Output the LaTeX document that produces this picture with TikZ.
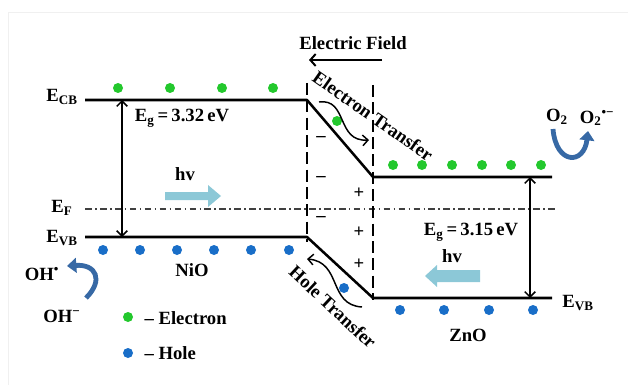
\documentclass[tikz,border=0pt]{standalone}
\usepackage{fontspec}
\setmainfont{Liberation Serif}
\usetikzlibrary{arrows.meta}
\definecolor{edot}{RGB}{35,200,45}
\definecolor{hdot}{RGB}{25,110,200}
\definecolor{lblue}{RGB}{140,200,215}
\definecolor{cblue}{RGB}{55,105,165}
\tikzset{
  band/.style={line width=1.9pt},
  dashv/.style={line width=1.4pt, dash pattern=on 9pt off 4pt},
  fermi/.style={line width=0.9pt, black!75, dash pattern=on 5pt off 2.5pt on 1.2pt off 2.5pt},
  lbl/.style={font=\fontsize{14}{16}\selectfont\bfseries, inner sep=1pt},
  el/.style={circle, fill=edot, minimum size=7.5pt, inner sep=0pt},
  ho/.style={circle, fill=hdot, minimum size=7.5pt, inner sep=0pt},
  gaparrow/.style={line width=1.1pt, {Straight Barb[length=4pt,width=8pt]}-{Straight Barb[length=4pt,width=8pt]}},
  wavearrow/.style={line width=1.1pt, -{Straight Barb[length=4pt,width=8pt]}},
  fieldarrow/.style={line width=1.5pt, -{Straight Barb[length=4pt,width=9pt]}},
  curvearrow/.style={line width=3.6pt, cblue, -{Triangle[length=7pt,width=11pt]}},
  blockarrow/.style={fill=lblue, draw=none}
}
\begin{document}
\begin{tikzpicture}[x=0.75pt,y=-0.75pt]
\useasboundingbox (0,0) rectangle (628,385);
\draw[black!6] (8,385) -- (8,12) -- (628,12);

% band coordinates
\coordinate (cbL) at (85,100);
\coordinate (cbJ1) at (307,100);
\coordinate (cbJ2) at (373,177);
\coordinate (cbR) at (552,177);
\coordinate (vbL) at (85,237);
\coordinate (vbJ1) at (307,237);
\coordinate (vbJ2) at (373,298);
\coordinate (vbR) at (552,298);
\coordinate (efL) at (85,209);
\coordinate (efR) at (555,209);

% Fermi level
\draw[fermi] (efL) -- (efR);

% junction dashed lines
\coordinate (dl1) at (307,83);
\coordinate (dl2) at (307,242);
\coordinate (dr1) at (373,85);
\coordinate (dr2) at (373,300);
\draw[dashv] (dl1) -- (dl2);
\draw[dashv] (dr1) -- (dr2);

% bands
\draw[band, line join=round] (cbL) -- (cbJ1) -- (cbJ2) -- (cbR);
\draw[band, line join=round] (vbL) -- (vbJ1) -- (vbJ2) -- (vbR);

% band labels
\node[lbl] (ecb) at (62,97) {E\textsubscript{CB}};
\node[lbl] (ef) at (62,208) {E\textsubscript{F}};
\node[lbl] (evb) at (62,238) {E\textsubscript{VB}};
\node[lbl] (evb2) at (578,303) {E\textsubscript{VB}};

% band gap arrows
\coordinate (g1t) at (122,100);
\coordinate (g1b) at (122,237);
\draw[gaparrow] (g1t) -- (g1b);
\coordinate (g2t) at (530,177);
\coordinate (g2b) at (530,298);
\draw[gaparrow] (g2t) -- (g2b);
\node[lbl] (eg1) at (182,118) {E\textsubscript{g}\,=\,3.32\,eV};
\node[lbl] (eg2) at (471,232) {E\textsubscript{g}\,=\,3.15\,eV};

% electrons on CB
\foreach \x [count=\i] in {118,170,222,273} \node[el] (en\i) at (\x,88) {};
\foreach \x [count=\i] in {393,422,452,482,511,541} \node[el] (ez\i) at (\x,165) {};
% holes on VB
\foreach \x [count=\i] in {103,140,177,214,251,289} \node[ho] (hn\i) at (\x,250) {};
\foreach \x [count=\i] in {400,444,489,533} \node[ho] (hz\i) at (\x,310) {};

% hv arrows
\node[lbl] (hv1) at (185,174) {hv};
\path[blockarrow] (165,192) -- (208,192) -- (208,185) -- (221,196) -- (208,207) -- (208,200) -- (165,200) -- cycle;
\node[lbl] (hv2) at (452,256) {hv};
\path[blockarrow] (480,270) -- (437,270) -- (437,265) -- (425,276) -- (437,287) -- (437,282) -- (480,282) -- cycle;

% material labels
\node[lbl] (nio) at (192,270) {NiO};
\node[lbl] (zno) at (468,335) {ZnO};

% electric field
\node[lbl] (efield) at (353,43) {Electric Field};
\coordinate (fa1) at (382,60);
\coordinate (fa2) at (309,60);
\draw[fieldarrow] (fa1) -- (fa2);

% junction charges
\foreach \y [count=\i] in {139,179,219} \node[lbl] (m\i) at (321,\y) {\textendash};
\foreach \y [count=\i] in {193,232,264} \node[lbl] (p\i) at (359,\y) {+};

% electron transfer
\node[el] (ej) at (337,121) {};
\coordinate (ew1) at (319,102);
\coordinate (ew2) at (369,140);
\draw[wavearrow] (ew1) .. controls (348,98) and (336,142) .. (ew2);
\node[lbl, rotate=-35] (etr) at (373,116) {Electron Transfer};

% hole transfer
\node[ho] (hj) at (344,288) {};
\coordinate (hw1) at (362,307);
\coordinate (hw2) at (307,259);
\draw[wavearrow] (hw1) .. controls (328,305) and (342,262) .. (hw2);
\node[lbl, rotate=-43] (htr) at (333,307) {Hole Transfer};

% OH reaction
\node[lbl] (ohr) at (42,274) {OH\textsuperscript{•}};
\node[lbl] (ohm) at (62,316) {OH\textsuperscript{−}};
\coordinate (oa1) at (86,298);
\coordinate (oa2) at (67,266);
\draw[curvearrow] (oa1) .. controls (104,280) and (96,264) .. (oa2);

% O2 reaction
\node[lbl] (o2) at (557,117) {O\textsubscript{2}};
\node[lbl] (o2r) at (597,118) {O\textsubscript{2}\textsuperscript{•−}};
\coordinate (ob1) at (553,129);
\coordinate (ob2) at (588,131);
\draw[curvearrow] (ob1) .. controls (556,165) and (584,165) .. (ob2);

% legend
\node[el] (lge) at (128,317) {};
\node[lbl, anchor=west] (lgel) at (143,318) {\textendash\ Electron};
\node[ho] (lgh) at (128,353) {};
\node[lbl, anchor=west] (lghl) at (143,353) {\textendash\ Hole};
\end{tikzpicture}
\end{document}
